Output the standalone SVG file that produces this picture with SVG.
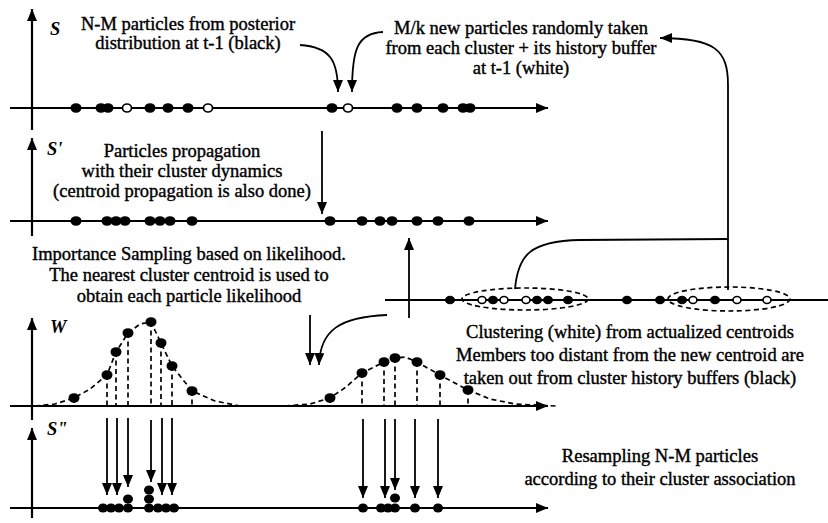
<svg xmlns="http://www.w3.org/2000/svg" width="828" height="523" viewBox="0 0 828 523">
<defs>
<marker id="ah" viewBox="0 0 12 10" refX="12" refY="5" markerWidth="12" markerHeight="10" markerUnits="userSpaceOnUse" orient="auto"><path d="M0,0 L12,5 L0,10 z" fill="#000"/></marker>
<style>
.ax{stroke:#000;stroke-width:2.2;fill:none;marker-end:url(#ah)}
.ln{stroke:#000;stroke-width:2.2;fill:none}
.ar{stroke:#000;stroke-width:1.8;fill:none;marker-end:url(#ah)}
.dash{stroke:#000;stroke-width:1.7;fill:none;stroke-dasharray:5 3.5}
.d{fill:#000}
.o{fill:#fff;stroke:#000;stroke-width:1.7}
text{font-family:"Liberation Serif","Times New Roman",serif;font-size:18.5px;fill:#000;stroke:#000;stroke-width:0.4}
.c{text-anchor:middle}
.lab{font-style:italic;font-weight:bold;stroke-width:0}
</style>
</defs>
<rect width="828" height="523" fill="#fff"/>

<g id="axes">
<path class="ax" d="M32,130 L32,9"/>
<path class="ax" d="M10,108 L548,108"/>
<path class="ax" d="M32,236 L32,138"/>
<path class="ax" d="M10,221 L548,221"/>
<path class="ax" d="M32,420 L32,318"/>
<path class="ax" d="M10,406 L548,406"/>
<path class="ax" d="M32,518 L32,428"/>
<path class="ax" d="M10,508 L548,508"/>
<path class="ln" d="M385,300 L828,300"/>
</g>

<g id="labels">
<text class="lab" x="50" y="35">S</text>
<text class="lab" x="47" y="155">S'</text>
<text class="lab" x="50" y="333">W</text>
<text class="lab" x="47" y="435">S"</text>
</g>

<g id="row-S">
<ellipse class="d" cx="76" cy="108" rx="5.5" ry="4.8"/>
<ellipse class="d" cx="101" cy="108" rx="5.5" ry="4.8"/>
<ellipse class="d" cx="108" cy="108" rx="5.5" ry="4.8"/>
<ellipse class="o" cx="127" cy="108" rx="4.5" ry="4"/>
<ellipse class="d" cx="150" cy="108" rx="5.5" ry="4.8"/>
<ellipse class="d" cx="168" cy="108" rx="5.5" ry="4.8"/>
<ellipse class="d" cx="188" cy="108" rx="5.5" ry="4.8"/>
<ellipse class="o" cx="208" cy="108" rx="4.5" ry="4"/>
<ellipse class="d" cx="332" cy="108" rx="5.5" ry="4.8"/>
<ellipse class="o" cx="348" cy="108" rx="4.5" ry="4"/>
<ellipse class="d" cx="397" cy="108" rx="5.5" ry="4.8"/>
<ellipse class="d" cx="417" cy="108" rx="5.5" ry="4.8"/>
<ellipse class="d" cx="443" cy="108" rx="5.5" ry="4.8"/>
<ellipse class="d" cx="463" cy="108" rx="5.5" ry="4.8"/>
<ellipse class="d" cx="470" cy="108" rx="5.5" ry="4.8"/>
</g>

<g id="row-S-prime">
<ellipse class="d" cx="76" cy="221" rx="5.5" ry="4.8"/>
<ellipse class="d" cx="107" cy="221" rx="5.5" ry="4.8"/>
<ellipse class="d" cx="116" cy="221" rx="5.5" ry="4.8"/>
<ellipse class="d" cx="125" cy="221" rx="5.5" ry="4.8"/>
<ellipse class="d" cx="150" cy="221" rx="5.5" ry="4.8"/>
<ellipse class="d" cx="160" cy="221" rx="5.5" ry="4.8"/>
<ellipse class="d" cx="170" cy="221" rx="5.5" ry="4.8"/>
<ellipse class="d" cx="192" cy="221" rx="5.5" ry="4.8"/>
<ellipse class="d" cx="330" cy="221" rx="5.5" ry="4.8"/>
<ellipse class="d" cx="362" cy="221" rx="5.5" ry="4.8"/>
<ellipse class="d" cx="380" cy="221" rx="5.5" ry="4.8"/>
<ellipse class="d" cx="392" cy="221" rx="5.5" ry="4.8"/>
<ellipse class="d" cx="417" cy="221" rx="5.5" ry="4.8"/>
<ellipse class="d" cx="438" cy="221" rx="5.5" ry="4.8"/>
<ellipse class="d" cx="469" cy="221" rx="5.5" ry="4.8"/>
</g>

<g id="row-clusters">
<ellipse class="dash" cx="525" cy="299" rx="63" ry="11"/>
<ellipse class="dash" cx="729" cy="299" rx="61" ry="12"/>
<ellipse class="d" cx="450" cy="300" rx="5" ry="4.3"/>
<ellipse class="o" cx="482" cy="300" rx="4" ry="3.5"/>
<ellipse class="d" cx="493" cy="300" rx="5" ry="4.3"/>
<ellipse class="o" cx="504" cy="300" rx="4" ry="3.5"/>
<ellipse class="o" cx="526" cy="300" rx="4" ry="3.5"/>
<ellipse class="d" cx="537" cy="300" rx="5" ry="4.3"/>
<ellipse class="d" cx="548" cy="300" rx="5" ry="4.3"/>
<ellipse class="d" cx="568" cy="300" rx="5" ry="4.3"/>
<ellipse class="d" cx="627" cy="300" rx="5" ry="4.3"/>
<ellipse class="d" cx="660" cy="300" rx="5" ry="4.3"/>
<ellipse class="d" cx="682" cy="300" rx="5" ry="4.3"/>
<ellipse class="o" cx="693" cy="300" rx="4" ry="3.5"/>
<ellipse class="d" cx="715" cy="300" rx="5" ry="4.3"/>
<ellipse class="o" cx="737" cy="300" rx="4" ry="3.5"/>
<ellipse class="o" cx="767" cy="300" rx="4" ry="3.5"/>
</g>

<g id="row-W">
<polyline class="dash" points="35,406 55,404 74,398 90,389 107,375 116,352 128,333 140,324 151,322 161,343 172,366 192,391 215,401 240,406 260,406"/>
<polyline class="dash" points="285,406 310,404 330,398 346,387 362,373 384,362 395,358 405,357 417,362 440,375 468,390 490,399 515,404 556,406"/>
<path class="dash" d="M74,398 V406 M107,375 V406 M116,352 V406 M128,333 V406 M151,322 V406 M161,343 V406 M172,366 V406 M192,391 V406 M330,398 V406 M362,373 V406 M384,362 V406 M395,358 V406 M417,362 V406 M440,375 V406 M468,390 V406"/>
<ellipse class="d" cx="74" cy="398" rx="5.5" ry="4.8"/>
<ellipse class="d" cx="107" cy="375" rx="5.5" ry="4.8"/>
<ellipse class="d" cx="116" cy="352" rx="5.5" ry="4.8"/>
<ellipse class="d" cx="128" cy="333" rx="5.5" ry="4.8"/>
<ellipse class="d" cx="151" cy="322" rx="5.5" ry="4.8"/>
<ellipse class="d" cx="161" cy="343" rx="5.5" ry="4.8"/>
<ellipse class="d" cx="172" cy="366" rx="5.5" ry="4.8"/>
<ellipse class="d" cx="192" cy="391" rx="5.5" ry="4.8"/>
<ellipse class="d" cx="330" cy="398" rx="5.5" ry="4.8"/>
<ellipse class="d" cx="362" cy="373" rx="5.5" ry="4.8"/>
<ellipse class="d" cx="384" cy="362" rx="5.5" ry="4.8"/>
<ellipse class="d" cx="395" cy="358" rx="5.5" ry="4.8"/>
<ellipse class="d" cx="417" cy="362" rx="5.5" ry="4.8"/>
<ellipse class="d" cx="440" cy="375" rx="5.5" ry="4.8"/>
<ellipse class="d" cx="468" cy="390" rx="5.5" ry="4.8"/>
</g>

<g id="row-S-second">
<ellipse class="d" cx="103" cy="508" rx="5" ry="4.5"/>
<ellipse class="d" cx="111" cy="508" rx="5" ry="4.5"/>
<ellipse class="d" cx="119" cy="508" rx="5" ry="4.5"/>
<ellipse class="d" cx="128" cy="508" rx="5" ry="4.5"/>
<ellipse class="d" cx="128" cy="499" rx="5" ry="4.5"/>
<ellipse class="d" cx="149" cy="508" rx="5" ry="4.5"/>
<ellipse class="d" cx="149" cy="499" rx="5" ry="4.5"/>
<ellipse class="d" cx="149" cy="490" rx="5" ry="4.5"/>
<ellipse class="d" cx="158" cy="508" rx="5" ry="4.5"/>
<ellipse class="d" cx="166" cy="508" rx="5" ry="4.5"/>
<ellipse class="d" cx="174" cy="508" rx="5" ry="4.5"/>
<ellipse class="d" cx="363" cy="508" rx="5" ry="4.5"/>
<ellipse class="d" cx="381" cy="508" rx="5" ry="4.5"/>
<ellipse class="d" cx="388" cy="508" rx="5" ry="4.5"/>
<ellipse class="d" cx="395" cy="508" rx="5" ry="4.5"/>
<ellipse class="d" cx="395" cy="498" rx="5" ry="4.5"/>
<ellipse class="d" cx="415" cy="508" rx="5" ry="4.5"/>
<ellipse class="d" cx="438" cy="508" rx="5" ry="4.5"/>
</g>

<g id="connectors">
<path class="ar" d="M300,45 C330,47 338,60 338,92"/>
<path class="ar" d="M383,32 C357,33 352,50 352,92"/>
<path class="ar" d="M322,131 L322,214"/>
<path class="ar" d="M409,318 L409,238"/>
<path class="ar" d="M728,290 L728,85 C728,50 715,38 660,38"/>
<path class="ln" style="stroke-width:1.8" d="M515,289 C518,255 530,241 580,240 L728,239"/>
<path class="ar" d="M310,315 L310,365"/>
<path class="ar" d="M387,315 C340,317 320,330 319,365"/>
<path class="ar" d="M107,418 L107,495"/>
<path class="ar" d="M117,418 L117,495"/>
<path class="ar" d="M128,418 L128,487"/>
<path class="ar" d="M151,420 L151,482"/>
<path class="ar" d="M162,418 L162,495"/>
<path class="ar" d="M172,418 L172,495"/>
<path class="ar" d="M363,419 L363,498"/>
<path class="ar" d="M385,419 L385,498"/>
<path class="ar" d="M395,419 L395,490"/>
<path class="ar" d="M415,419 L415,498"/>
<path class="ar" d="M438,419 L438,498"/>
</g>

<g id="texts">
<text class="c" x="188" y="30">N-M particles from posterior</text>
<text class="c" x="188" y="49">distribution at t-1 (black)</text>
<text class="c" x="521" y="34">M/k new particles randomly taken</text>
<text class="c" x="521" y="54">from each cluster + its history buffer</text>
<text class="c" x="521" y="74">at t-1 (white)</text>
<text class="c" x="182" y="157">Particles propagation</text>
<text class="c" x="182" y="177">with their cluster dynamics</text>
<text class="c" x="182" y="197">(centroid propagation is also done)</text>
<text class="c" x="189" y="260">Importance Sampling based on likelihood.</text>
<text class="c" x="189" y="281">The nearest cluster centroid is used to</text>
<text class="c" x="189" y="302">obtain each particle likelihood</text>
<text class="c" x="630" y="338">Clustering (white) from actualized centroids</text>
<text class="c" x="630" y="361">Members too distant from the new centroid are</text>
<text class="c" x="630" y="384">taken out from cluster history buffers (black)</text>
<text class="c" x="660" y="462">Resampling N-M particles</text>
<text class="c" x="660" y="485">according to their cluster association</text>
</g>
</svg>
